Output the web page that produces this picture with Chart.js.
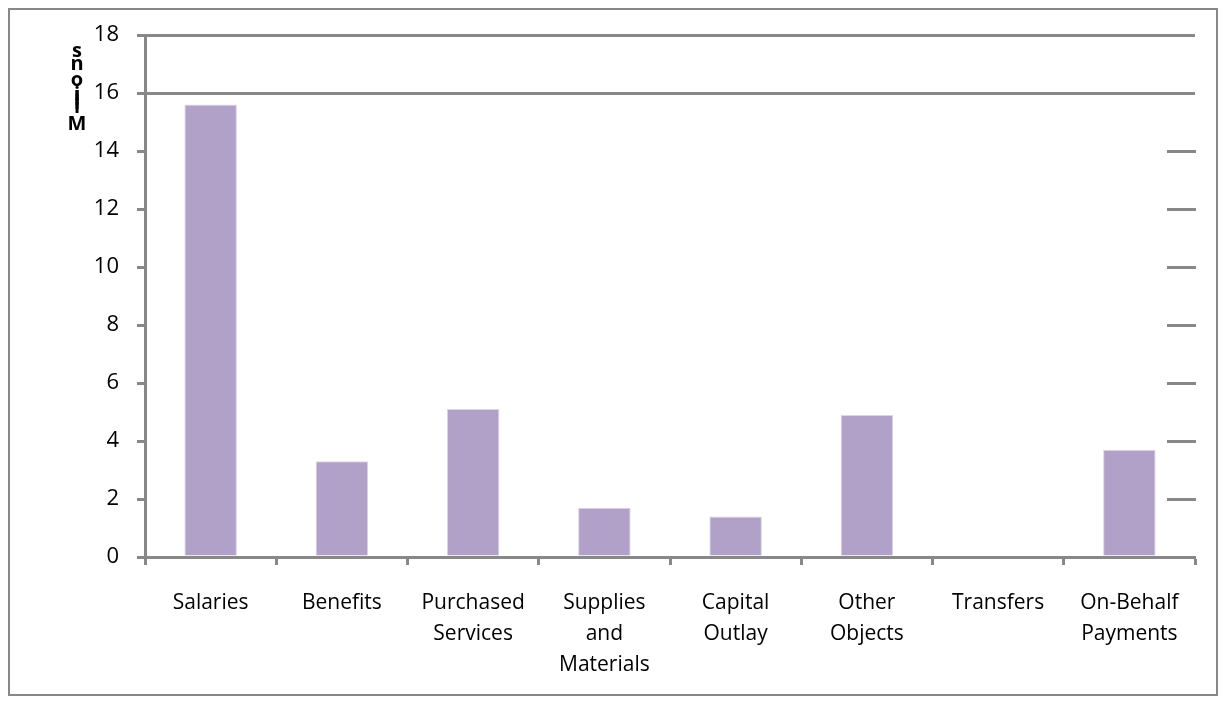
<!DOCTYPE html>
<html>
<head>
<meta charset="utf-8">
<script src="https://cdn.jsdelivr.net/npm/chart.js@4"></script>
<style>
  html, body { margin: 0; padding: 0; background: #fff; }
  #wrap { width: 1225px; height: 704px; }
</style>
</head>
<body>
<div id="wrap"><canvas id="gastos" width="1225" height="704"></canvas></div>
<script>
// categorias e valores (milhões)
const categorias = [
    'Salaries',
    'Benefits',
    ['Purchased', 'Services'],
    ['Supplies', 'and', 'Materials'],
    ['Capital', 'Outlay'],
    ['Other', 'Objects'],
    'Transfers',
    ['On-Behalf', 'Payments']
];
const valores = [15.6, 3.3, 5.1, 1.7, 1.4, 4.9, 0, 3.7];
const tituloY = 'Millions';

const cinza = '#888888';

// moldura e fundo branco
const moldura = {
    id: 'moldura',
    beforeDraw(chart) {
        const ctx = chart.ctx;
        ctx.save();
        ctx.fillStyle = '#fff';
        ctx.fillRect(0, 0, chart.width, chart.height);
        ctx.strokeStyle = cinza;
        ctx.lineWidth = 2;
        ctx.strokeRect(9, 9, chart.width - 17, chart.height - 18);
        ctx.restore();
    }
};

// tracinhos do lado direito + titulo do eixo Y empilhado
const extras = {
    id: 'extras',
    afterDatasetsDraw(chart) {
        const ctx = chart.ctx;
        const y = chart.scales.y;
        const area = chart.chartArea;
        ctx.save();
        ctx.strokeStyle = cinza;
        ctx.lineWidth = 3;
        y.ticks.forEach(t => {
            if (t.value === 0 || t.value >= 16) return;
            const py = Math.round(y.getPixelForValue(t.value)) + 0.5;
            ctx.beginPath();
            ctx.moveTo(area.right - 28, py);
            ctx.lineTo(area.right + 1, py);
            ctx.stroke();
        });
        // titulo "Millions" com letras sobrepostas
        ctx.fillStyle = '#000';
        ctx.font = 'bold 20px "Open Sans", sans-serif';
        ctx.textAlign = 'center';
        ctx.textBaseline = 'alphabetic';
        const bases = [130, 113, 109, 105, 101, 86, 70, 57];
        tituloY.split('').forEach((c, i) => {
            ctx.fillText(c, 77, bases[i]);
        });
        ctx.restore();
    }
};

new Chart(document.getElementById('gastos'), {
    type: 'bar',
    data: {
        labels: categorias,
        datasets: [{
            label: 'Millions',
            data: valores,
            backgroundColor: '#b1a0c7',
            borderColor: '#ddd3ea',
            borderWidth: 1,
            barPercentage: 0.4,
            categoryPercentage: 1
        }]
    },
    options: {
        responsive: false,
        animation: false,
        devicePixelRatio: 1,
        layout: { padding: { left: 0, right: 30, top: 35, bottom: 0 } },
        plugins: {
            legend: { display: false },
            tooltip: { enabled: false }
        },
        scales: {
            x: {
                grid: {
                    offset: true,
                    drawOnChartArea: false,
                    drawTicks: true,
                    tickLength: 8,
                    tickColor: cinza,
                    tickWidth: 3
                },
                border: { color: cinza, width: 3 },
                ticks: {
                    color: '#000',
                    font: { family: '"Open Sans", sans-serif', size: 21, lineHeight: 1.48 },
                    padding: 22,
                    maxRotation: 0,
                    autoSkip: false
                },
                afterFit(scale) { scale.height = 147; }
            },
            y: {
                min: 0,
                max: 18,
                ticks: {
                    stepSize: 2,
                    color: '#000',
                    font: { family: '"Open Sans", sans-serif', size: 22 },
                    padding: 18
                },
                grid: {
                    color: ctx => (ctx.tick && ctx.tick.value >= 16) ? cinza : 'rgba(0,0,0,0)',
                    lineWidth: 3,
                    drawTicks: true,
                    tickLength: 8,
                    tickColor: cinza,
                    tickWidth: 3
                },
                border: { color: cinza, width: 3 },
                afterFit(scale) { scale.width = 145; }
            }
        }
    },
    plugins: [moldura, extras]
});
</script>
</body>
</html>
